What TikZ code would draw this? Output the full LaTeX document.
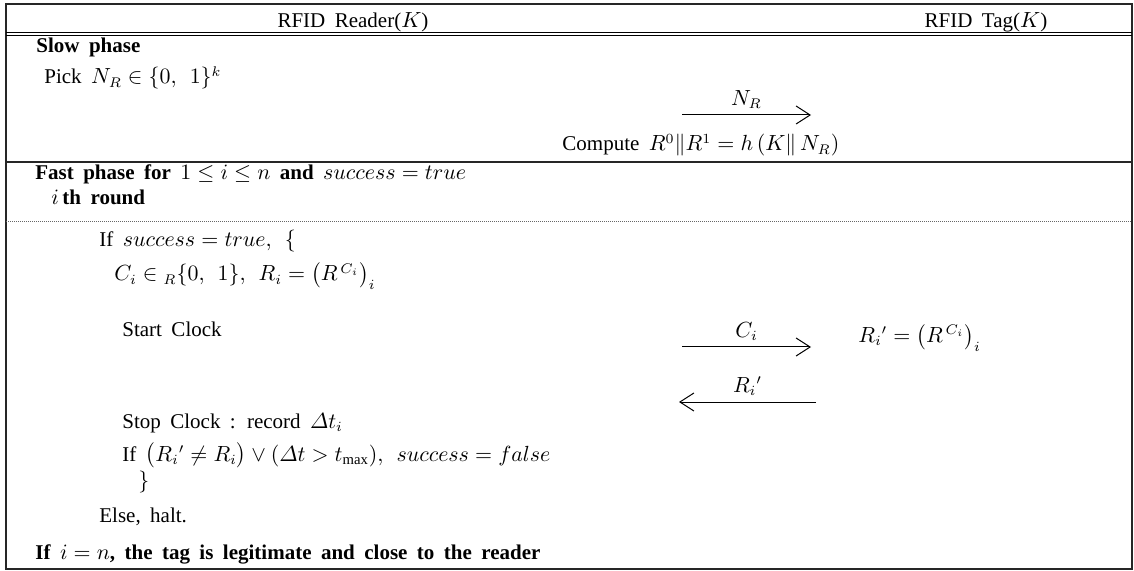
\documentclass[tikz,border=0pt]{standalone}
\usepackage{amsmath,amssymb}
\usepackage{fontspec}
\setmainfont{Liberation Serif}
\usepackage{tikz}
\usetikzlibrary{arrows.meta}
\newcommand{\tabfont}{\fontsize{10.5}{12.6}\selectfont\spaceskip=0.45em plus 0.1em\relax}

\begin{document}
\begin{tikzpicture}[x=0.5pt, y=-0.5pt,
  txt/.style={anchor=base west, inner sep=0pt, font=\tabfont},
  head/.style={anchor=base, inner sep=0pt, font=\tabfont},
  lbl/.style={above, inner sep=3pt, font=\tabfont},
  msg/.style={-{Straight Barb[length=7pt,width=9pt]}, line width=0.5pt},
  frame/.style={line width=0.75pt, draw=black!85}]
\useasboundingbox (0,0) rectangle (1134,571);
\draw[frame] (6,4) rectangle (1132,569);
\draw[line width=0.5pt] (6,33) -- (1132,33) (6,36) -- (1132,36);
\draw[frame] (6,162) -- (1132,162);
\draw[black!60, line width=0.5pt, dash pattern=on 0.5pt off 0.5pt] (6,222) -- (1132,222);
% header
\node[head] (reader) at (353,28) {RFID Reader($K$)};
\node[head] (tag) at (986,28) {RFID Tag($K$)};
% slow phase
\node[txt] (slow) at (36,53) {\bfseries Slow phase};
\node[txt] (pick) at (44,84) {Pick $N_R \in \{0,\ 1\}^k$};
\coordinate (nr-s) at (682,115);
\coordinate (nr-e) at (811,115);
\draw[msg] (nr-s) -- node[lbl] (nr) {$N_R$} (nr-e);
\node[txt] (comp) at (562,151) {Compute $R^0\|R^1 = h\,(K\|\,N_R)$};
% fast phase
\node[txt] (fast) at (35,180) {\bfseries Fast phase for $1\le i\le n$ and $success=true$};
\node[txt] (round) at (51,205) {\bfseries $i$\,th round};
\node[txt] (ifok) at (99,247) {If $success=true,\ \{$};
\node[txt] (pickc) at (114,281) {$C_i\in{}_R\{0,\ 1\},\ R_i=\bigl(R^{\,C_i}\bigr)_i$};
\node[txt] (start) at (122,336) {Start Clock};
\coordinate (c-s) at (682,347);
\coordinate (c-e) at (811,347);
\draw[msg] (c-s) -- node[lbl] (ci) {$C_i$} (c-e);
\node[anchor=mid west, inner sep=0pt, font=\tabfont] (resp) at (858,338) {$R_i{}'=\bigl(R^{\,C_i}\bigr)_i$};
\coordinate (r-s) at (816,402);
\coordinate (r-e) at (679,402);
\draw[msg] (r-s) -- node[lbl] (ri) {$R_i{}'$} (r-e);
\node[txt] (stop) at (122,428) {Stop Clock : record $\varDelta t_i$};
\node[txt] (check) at (122,461) {If $\bigl(R_i{}'\ne R_i\bigr)\vee(\varDelta t>t_{\max}),\ success=false$};
\node[txt] (close) at (138,487) {$\}$};
\node[txt] (halt) at (99,522) {Else, halt.};
\node[txt] (final) at (35,559) {\bfseries If $i=n$, the tag is legitimate and close to the reader};
\end{tikzpicture}
\end{document}
